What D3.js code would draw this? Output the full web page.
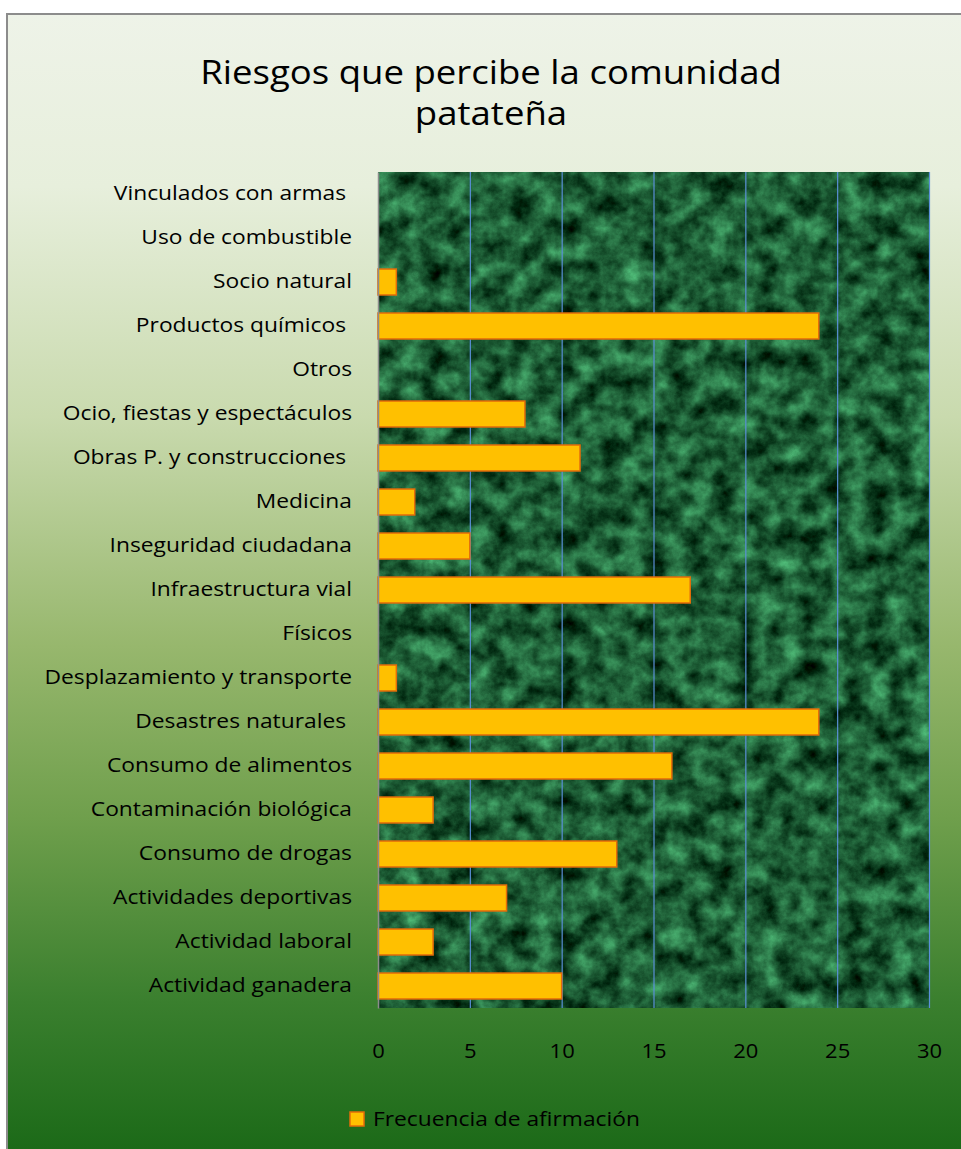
<!DOCTYPE html>
<html>
<head>
<meta charset="utf-8">
<script src="https://cdn.jsdelivr.net/npm/d3@7"></script>
<style>
  body { margin: 0; background: #ffffff; }
  svg text { font-family: "Open Sans", sans-serif; fill: #000; }
</style>
</head>
<body>
<div id="container"></div>
<script>
// categories from top to bottom, as they appear in the chart
const categories = ["Vinculados con armas ", "Uso de combustible", "Socio natural", "Productos químicos ",
  "Otros", "Ocio, fiestas y espectáculos", "Obras P. y construcciones ", "Medicina",
  "Inseguridad ciudadana", "Infraestructura vial", "Físicos", "Desplazamiento y transporte",
  "Desastres naturales ", "Consumo de alimentos", "Contaminación biológica", "Consumo de drogas",
  "Actividades deportivas", "Actividad laboral", "Actividad ganadera"];
const values = [0, 0, 1, 24, 0, 8, 11, 2, 5, 17, 0, 1, 24, 16, 3, 13, 7, 3, 10];
const xTicks = [0, 5, 10, 15, 20, 25, 30];
const titleLines = ["Riesgos que percibe la comunidad", "patateña"];
const seriesName = "Frecuencia de afirmación";

const w = 961, h = 1149;
const margin = {top: 172, left: 378, right: 32, bottom: 141};
const plotW = w - margin.left - margin.right;
const plotH = h - margin.top - margin.bottom;
const stretch = 1.14; // the original font is drawn wider than it is tall

const svg = d3.select("#container").append("svg").attr("width", w).attr("height", h);
const defs = svg.append("defs");

const bg = defs.append("linearGradient").attr("id", "bg").attr("x1", 0).attr("y1", 0).attr("x2", 0).attr("y2", 1);
[[0, "#eef3e8"], [0.15, "#e7efdc"], [0.35, "#c9daae"], [0.55, "#97b76d"], [0.7, "#6f9f4c"],
 [0.86, "#3a7f2e"], [1, "#196816"]].forEach(s => bg.append("stop").attr("offset", s[0]).attr("stop-color", s[1]));

// marble texture for the plot area
const marble = defs.append("filter").attr("id", "marble").attr("x", 0).attr("y", 0).attr("width", 1).attr("height", 1)
  .attr("color-interpolation-filters", "sRGB");
marble.append("feTurbulence").attr("type", "fractalNoise").attr("baseFrequency", 0.045)
  .attr("numOctaves", 6).attr("seed", 11).attr("result", "noise");
marble.append("feColorMatrix").attr("in", "noise").attr("type", "matrix")
  .attr("values", "0.45 0 0 0 -0.11  0.85 0 0 0 -0.06  0.6 0 0 0 -0.09  0 0 0 0 1");

// stretch a text horizontally around its anchor
function widen(sel, s) {
  sel.each(function() {
    const t = d3.select(this);
    const x0 = +t.attr("x") || 0;
    t.attr("x", x0 / s).attr("transform", `scale(${s},1)`);
  });
}

// outer chart area
svg.append("rect").attr("x", 7).attr("y", 14).attr("width", w + 10).attr("height", h)
  .attr("fill", "url(#bg)").attr("stroke", "#8c8c8c").attr("stroke-width", 2);

// title
svg.append("g").attr("transform", "translate(491,0)")
  .selectAll("text").data(titleLines).join("text")
  .attr("x", 0).attr("y", (d, i) => 84 + i * 41)
  .attr("text-anchor", "middle").style("font-size", "32.5px")
  .text(d => d)
  .call(widen, 1.125);

const x = d3.scaleLinear().domain([0, 30]).range([0, plotW]);
const y = d3.scaleBand().domain(categories).range([0, plotH]).paddingInner(0.41).paddingOuter(0.205);

const graph = svg.append("g").attr("transform", `translate(${margin.left},${margin.top})`);

graph.append("rect").attr("width", plotW).attr("height", plotH).attr("filter", "url(#marble)");

const xAxisGroup = graph.append("g").attr("transform", `translate(0,${plotH})`);
xAxisGroup.call(d3.axisBottom(x).tickValues(xTicks).tickSizeInner(-plotH).tickSizeOuter(0).tickPadding(36));
xAxisGroup.select(".domain").remove();
xAxisGroup.selectAll("line").attr("stroke", d => d === 0 ? "none" : "#5b8fd8").attr("stroke-width", 1.2);
xAxisGroup.selectAll("text").style("font-size", "20px").attr("fill", "#000").call(widen, 1.1);

graph.selectAll("rect.bar")
  .data(categories)
  .join("rect")
  .attr("class", "bar")
  .attr("x", 0)
  .attr("y", d => y(d))
  .attr("width", (d, i) => x(values[i]))
  .attr("height", y.bandwidth())
  .attr("fill", "#ffc000")
  .attr("stroke", "#e46c0a")
  .attr("stroke-width", 1.5)
  .attr("display", (d, i) => values[i] ? null : "none");

const yAxisGroup = graph.append("g");
yAxisGroup.call(d3.axisLeft(y).tickSize(0).tickPadding(26));
yAxisGroup.select(".domain").attr("stroke", "#8c8c8c").attr("stroke-width", 1.5);
yAxisGroup.selectAll("text").style("font-size", "20px").style("white-space", "pre").attr("fill", "#000")
  .call(widen, stretch);

// legend
const legend = svg.append("g").attr("transform", "translate(350,1112)");
legend.append("rect").attr("width", 14).attr("height", 14).attr("fill", "#ffc000")
  .attr("stroke", "#e46c0a").attr("stroke-width", 1.5);
legend.append("text").attr("x", 23).attr("y", 14).style("font-size", "20px").text(seriesName)
  .call(widen, stretch);
</script>
</body>
</html>
